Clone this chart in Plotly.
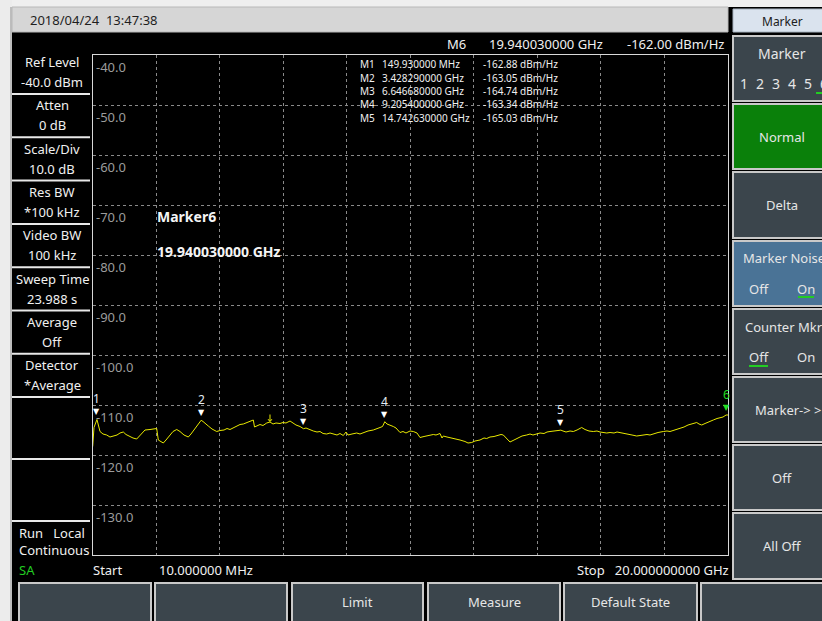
import plotly.graph_objects as go

W, H = 822, 621

# ---------------- data ----------------
freq_ghz = [0.016, 0.057, 0.15, 0.183, 0.246, 0.34, 0.457, 0.56, 0.664, 0.781, 0.875, 0.979,
            1.064, 1.19, 1.284, 1.40, 1.504, 1.599, 1.661, 1.819, 1.945, 2.029, 2.08, 2.165,
            2.237, 2.322, 2.448, 2.542, 2.659, 2.762, 2.888, 3.023, 3.108, 3.203, 3.288, 3.36,
            3.428, 3.486, 3.549, 3.653, 3.769, 3.917, 4.021, 4.147, 4.241, 4.335, 4.461, 4.555,
            4.65, 4.754, 4.87, 4.964, 5.068, 5.106, 5.185, 5.279, 5.373, 5.49, 5.593, 5.688,
            5.782, 5.908, 6.002, 6.097, 6.223, 6.317, 6.411, 6.537, 6.647, 6.726, 6.852, 6.956,
            7.072, 7.166, 7.261, 7.377, 7.481, 7.607, 7.701, 7.795, 7.899, 7.984, 8.047, 8.173,
            8.321, 8.424, 8.55, 8.676, 8.843, 8.959, 9.054, 9.132, 9.205, 9.274, 9.368, 9.472,
            9.557, 9.683, 9.777, 9.871, 9.997, 10.101, 10.217, 10.312, 10.438, 10.564, 10.73,
            10.815, 10.941, 11.004, 11.045, 11.161, 11.319, 11.466, 11.57, 11.727, 11.822,
            11.938, 12.042, 12.199, 12.325, 12.41, 12.514, 12.64, 12.766, 12.86, 12.932, 13.017,
            13.08, 13.143, 13.269, 13.395, 13.521, 13.668, 13.772, 13.866, 13.983, 14.087,
            14.213, 14.307, 14.401, 14.527, 14.621, 14.743, 14.81, 14.905, 15.031, 15.135,
            15.251, 15.398, 15.502, 15.628, 15.763, 15.879, 15.974, 16.068, 16.185, 16.289,
            16.415, 16.509, 16.603, 16.729, 16.855, 16.981, 17.128, 17.232, 17.358, 17.452,
            17.547, 17.673, 17.799, 17.965, 18.081, 18.176, 18.27, 18.387, 18.491, 18.617,
            18.743, 18.805, 18.899, 19.016, 19.088, 19.173, 19.277, 19.403, 19.538, 19.654,
            19.749, 19.843, 19.94, 20.0]

level_dbm = [-118.3, -114.5, -112.9, -113.6, -115.3, -115.8, -116.0, -116.4, -116.2, -116.0, -115.6, -115.4,
             -115.9, -116.3, -116.6, -116.8, -116.0, -115.3, -115.0, -114.9, -114.8, -114.7, -117.0, -117.4,
             -117.6, -117.0, -116.0, -115.3, -114.9, -115.3, -116.0, -116.4, -115.8, -115.0, -114.3, -113.8,
             -113.05, -113.3, -113.7, -114.2, -114.8, -115.3, -115.1, -115.0, -114.7, -114.9, -114.5, -114.2,
             -113.9, -113.8, -113.5, -113.3, -113.0, -114.4, -114.2, -113.9, -114.1, -113.6, -113.4, -113.8,
             -113.6, -113.7, -113.5, -113.6, -113.2, -113.6, -114.0, -114.3, -114.74, -114.6, -115.0, -115.2,
             -115.4, -115.3, -115.7, -115.8, -115.6, -115.9, -116.0, -115.7, -116.1, -115.4, -116.0, -115.8,
             -115.6, -115.8, -115.5, -115.2, -115.0, -114.8, -114.5, -114.3, -113.34, -113.8, -114.0, -114.3,
             -114.6, -115.5, -115.3, -115.6, -115.2, -115.3, -115.6, -116.5, -116.3, -116.1, -115.9,
             -116.0, -115.7, -116.6, -116.2, -116.4, -116.6, -116.8, -117.0, -117.3, -117.6,
             -117.5, -117.2, -117.0, -116.6, -116.7, -116.4, -116.3, -116.1, -115.9, -116.0, -116.6,
             -117.0, -117.4, -117.0, -116.6, -116.2, -116.0, -115.8, -116.0, -115.8, -115.6,
             -115.7, -115.4, -115.3, -115.2, -115.1, -115.03, -115.2, -115.4, -115.2, -115.3,
             -115.0, -114.5, -114.9, -115.2, -115.3, -115.2, -115.4, -115.5, -115.6, -115.5,
             -115.6, -115.4, -115.5, -115.6, -115.8, -116.0, -116.2, -116.1, -116.0, -115.9,
             -116.0, -115.7, -115.5, -115.3, -115.2, -115.3, -115.1, -115.0, -114.7, -114.4,
             -114.0, -113.9, -113.6, -113.5, -113.8, -114.0, -113.7, -113.3, -113.0, -112.7,
             -112.5, -112.4, -112.0, -112.0]

marker_ids = ["1", "2", "3", "4", "5", "6"]
marker_freq_ghz = [0.14993, 3.42829, 6.64668, 9.2054, 14.74263, 19.94003]
marker_dbm = [-112.88, -113.05, -114.74, -113.34, -115.03, -112.00]
marker_freq_text = ["149.930000 MHz", "3.428290000 GHz", "6.646680000 GHz",
                    "9.205400000 GHz", "14.742630000 GHz"]
marker_noise_text = ["-162.88 dBm/Hz", "-163.05 dBm/Hz", "-164.74 dBm/Hz",
                     "-163.34 dBm/Hz", "-165.03 dBm/Hz"]

y_tick_values = [-40, -50, -60, -70, -80, -90, -100, -110, -120, -130]
y_tick_labels = ["-40.0", "-50.0", "-60.0", "-70.0", "-80.0", "-90.0",
                 "-100.0", "-110.0", "-120.0", "-130.0"]

left_panel = [("Ref Level", "-40.0 dBm"), ("Atten", "0 dB"), ("Scale/Div", "10.0 dB"),
              ("Res BW", "*100 kHz"), ("Video BW", "100 kHz"), ("Sweep Time", "23.988 s"),
              ("Average", "Off"), ("Detector", "*Average")]

bottom_buttons = ["", "", "Limit", "Measure", "Default State", ""]

# ---------------- helpers ----------------
FONT = "Segoe UI, Noto Sans, sans-serif"
def px(x):
    return x / W
def py(y):
    return 1 - y / H

shapes = []
annots = []

def rect(x0, y0, x1, y1, fill, line=None, lw=0):
    shapes.append(dict(type="rect", xref="paper", yref="paper",
                       x0=px(x0), x1=px(x1), y0=py(y1), y1=py(y0),
                       fillcolor=fill, line=dict(color=line or fill, width=lw), layer="below"))

def hline(x0, x1, y, color, w=1):
    shapes.append(dict(type="line", xref="paper", yref="paper",
                       x0=px(x0), x1=px(x1), y0=py(y), y1=py(y),
                       line=dict(color=color, width=w)))

def text(x, y, s, size=13, color="#f0f0f0", anchor="center", bold=False):
    annots.append(dict(xref="paper", yref="paper", x=px(x), y=py(y), text=("<b>%s</b>" % s) if bold else s,
                       showarrow=False, xanchor=anchor, yanchor="middle",
                       font=dict(family=FONT, size=size, color=color)))

# frame / window chrome
rect(0, 0, W, 7, "#efefef")
rect(0, 0, 12, H, "#ececec")
rect(10, 7, 12, H, "#bdbdbd")
rect(12, 7, 728, 32, "#d6d6d6", "#b8b8b8", 1)
text(28, 20, "2018/04/24  13:47:38", 13, "#1e1e1e", "left")
rect(733, 9, W + 2, 32, "#dae3ee", "#a8b4c0", 1)
text(782, 21, "Marker", 12, "#202020")

# left panel
for i, (a, b) in enumerate(left_panel):
    yc = 62 + i * 43.3
    text(52, yc, a)
    text(52, yc + 20, b)
    hline(12, 90, 94 + i * 43.3, "#e8e8e8", 2)
hline(12, 90, 459, "#e8e8e8", 2)
hline(12, 90, 521, "#e8e8e8", 2)
text(17, 533, "Run   Local", 13, "#f0f0f0", "left")
text(17, 550, "Continuous", 13, "#f0f0f0", "left")
text(17, 570, "SA", 13, "#22cc22", "left")
text(91, 570, "Start", 13, "#f0f0f0", "left")
text(157, 570, "10.000000 MHz", 13, "#f0f0f0", "left")
text(731, 570, "Stop   20.000000000 GHz", 13, "#f0f0f0", "right")

# header row above the plot
text(468, 44, "M6", 13, "#f0f0f0", "right")
text(487, 44, "19.940030000 GHz", 13, "#f0f0f0", "left")
text(726, 44, "-162.00 dBm/Hz", 13, "#f0f0f0", "right")

# marker table
for i in range(5):
    yy = 64 + i * 13.5
    text(358, yy, "M%d" % (i + 1), 10, "#f0f0f0", "left")
    text(380, yy, marker_freq_text[i], 10, "#f0f0f0", "left")
    text(481, yy, marker_noise_text[i], 10, "#f0f0f0", "left")

text(155, 216, "Marker6", 14, "#f4f4f4", "left", bold=True)
text(155, 251, "19.940030000 GHz", 14, "#f4f4f4", "left", bold=True)

# right panel buttons
btns = [(36, 101, "#3b454c"), (104, 169, "#0a800a"), (172, 238, "#3b454c"), (241, 306, "#4a7396"),
        (309, 374, "#3b454c"), (377, 442, "#3b454c"), (445, 510, "#3b454c"), (513, 579, "#3b454c")]
for (y0, y1, c) in btns:
    rect(733, y0, W + 3, y1, c, "#c9c9c9", 2)
tc = "#e6e6e6"
text(782, 54, "Marker", 14, tc)
for k, d in enumerate(marker_ids):
    text(744 + k * 16, 84, d, 14, tc)
hline(816, 826, 93, "#22cc22", 2)
text(782, 137, "Normal", 13, tc)
text(782, 205, "Delta", 13, tc)
text(741, 258, "Marker Noise", 13, tc, "left")
text(759, 289, "Off", 13, tc)
text(806, 289, "On", 13, tc)
hline(798, 814, 297, "#22cc22", 2)
text(743, 327, "Counter Mkr", 13, tc, "left")
text(759, 357, "Off", 13, tc)
text(806, 357, "On", 13, tc)
hline(749, 768, 366, "#22cc22", 2)
text(753, 410, "Marker-> >", 13, tc, "left")
text(782, 478, "Off", 13, tc)
text(782, 546, "All Off", 13, tc)

# bottom buttons
bx = [(19, 151), (155, 287), (292, 423), (428, 560), (564, 697), (701, W + 3)]
for (x0, x1), lab in zip(bx, bottom_buttons):
    rect(x0, 583, x1, H + 3, "#3b454c", "#c9c9c9", 2)
    if lab:
        text((x0 + x1) / 2, 602, lab, 13, tc)

# ---------------- plot ----------------
fig = go.Figure()
fig.add_trace(go.Scatter(x=freq_ghz, y=level_dbm, mode="lines",
                         line=dict(color="#e8e800", width=1), hoverinfo="skip"))

# y labels inside the plot
for v, lab in zip(y_tick_values, y_tick_labels):
    annots.append(dict(xref="x", yref="y", x=0.01, y=v, text=lab, showarrow=False,
                       xanchor="left", yanchor="top", xshift=1, yshift=-1,
                       font=dict(family=FONT, size=13, color="#9c9c9c")))

# marker triangles and labels
for mid, f, v in zip(marker_ids, marker_freq_ghz, marker_dbm):
    col = "#22dd22" if mid == "6" else "#ffffff"
    ncol = "#22dd22" if mid == "6" else "#e4ecf4"
    annots.append(dict(xref="x", yref="y", x=f, y=v, text="▼", showarrow=False,
                       xanchor="center", yanchor="bottom", yshift=1,
                       font=dict(family="DejaVu Sans", size=8, color=col)))
    annots.append(dict(xref="x", yref="y", x=f, y=v, text=mid, showarrow=False,
                       xanchor="center", yanchor="bottom", yshift=10,
                       font=dict(family=FONT, size=12, color=ncol)))

# small peak indicator on the trace
annots.append(dict(xref="x", yref="y", x=5.593, y=-113.4, ax=0, ay=-9, showarrow=True,
                   arrowhead=4, arrowsize=0.8, arrowwidth=1, arrowcolor="#e8e800", text=""))

fig.update_layout(
    width=W, height=H, autosize=False,
    margin=dict(l=0, r=0, t=0, b=0),
    paper_bgcolor="#000000", plot_bgcolor="#000000",
    showlegend=False,
    shapes=shapes, annotations=annots,
    xaxis=dict(domain=[px(92.5), px(728)], range=[0.01, 20.0], tick0=0.01, dtick=1.999,
               showgrid=True, gridcolor="#8a8a8a", griddash="dot", gridwidth=1,
               showticklabels=False, ticks="", zeroline=False,
               showline=True, mirror=True, linecolor="#d8d8d8", linewidth=1),
    yaxis=dict(domain=[py(555), py(55)], range=[-140, -40], dtick=10,
               showgrid=True, gridcolor="#8a8a8a", griddash="dot", gridwidth=1,
               showticklabels=False, ticks="", zeroline=False,
               showline=True, mirror=True, linecolor="#d8d8d8", linewidth=1),
)

fig.write_html("out.html", config={"displayModeBar": False},
               post_script="document.body.style.margin='0';document.body.style.overflow='hidden';")
